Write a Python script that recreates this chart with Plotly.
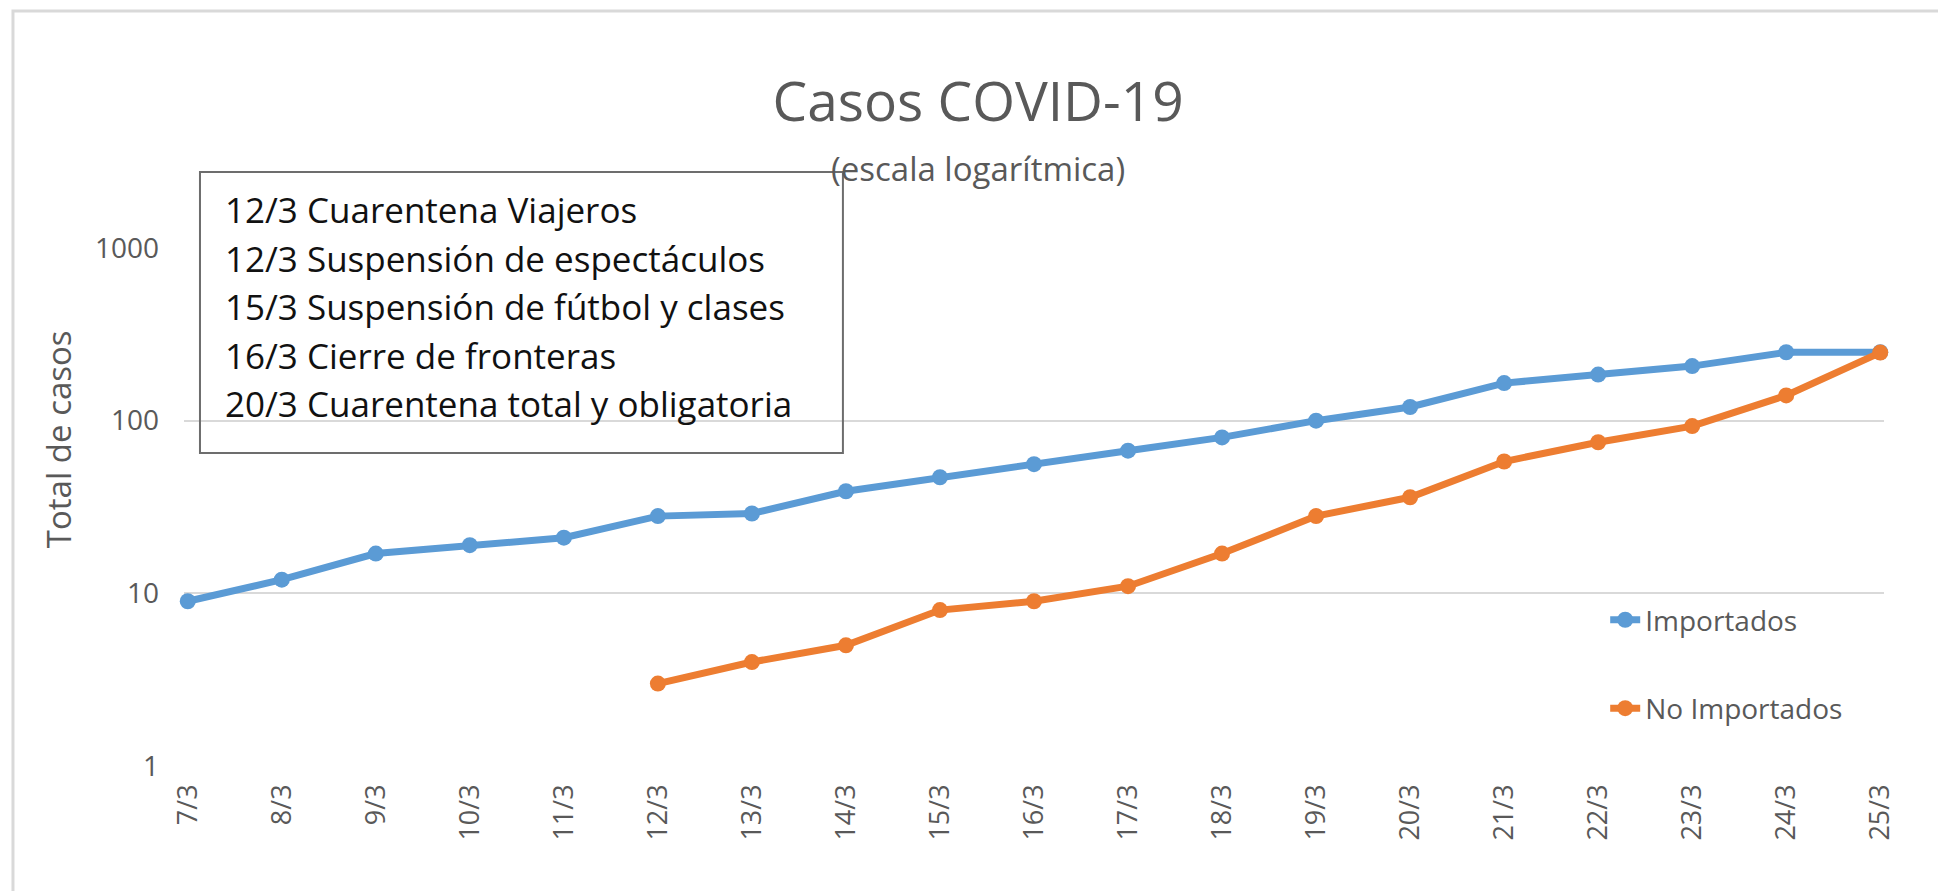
import plotly.graph_objects as go

dias = ["7/3", "8/3", "9/3", "10/3", "11/3", "12/3", "13/3", "14/3", "15/3", "16/3",
        "17/3", "18/3", "19/3", "20/3", "21/3", "22/3", "23/3", "24/3", "25/3"]
importados = [9, 12, 17, 19, 21, 28, 29, 39, 47, 56, 67, 80, 100, 120, 165, 185, 207, 249, 249]
no_importados = [None, None, None, None, None, 3, 4, 5, 8, 9, 11, 17, 28, 36, 58, 75, 93, 140, 248]
medidas = [
    "12/3 Cuarentena Viajeros",
    "12/3 Suspensión de espectáculos",
    "15/3 Suspensión de fútbol y clases",
    "16/3 Cierre de fronteras",
    "20/3 Cuarentena total y obligatoria",
]
y_ticks = [1, 10, 100, 1000]

FONT = "Open Sans"
GRIS = "#595959"

fig = go.Figure()
fig.add_trace(go.Scatter(x=dias, y=importados, name="Importados", legendgroup="a",
                         mode="lines+markers", cliponaxis=False,
                         line=dict(color="#5B9BD5", width=7),
                         marker=dict(color="#5B9BD5", size=16)))
fig.add_trace(go.Scatter(x=dias, y=no_importados, name="No Importados", legendgroup="b",
                         mode="lines+markers", cliponaxis=False,
                         line=dict(color="#ED7D31", width=7),
                         marker=dict(color="#ED7D31", size=16)))

# la pagina tiene 8px de margen en el body: se compensa en los margenes
fig.update_layout(
    width=1946, height=891, autosize=False,
    margin=dict(l=176, r=70, t=240, b=133),
    paper_bgcolor="white", plot_bgcolor="white",
    font=dict(family=FONT, color=GRIS),
    title=dict(text="Casos COVID-19", x=0.4985, xanchor="center", y=0.895, yanchor="middle",
               font=dict(family=FONT, size=55, color=GRIS)),
    legend=dict(x=0.836, y=0.33, xanchor="left", yanchor="top", tracegroupgap=49,
                font=dict(family=FONT, size=28, color=GRIS), bgcolor="rgba(0,0,0,0)"),
    showlegend=True,
)

fig.update_xaxes(type="category", range=[-0.04, 18.04], tickangle=-90, showgrid=False,
                 showline=False, zeroline=False, ticklabelstandoff=12,
                 tickfont=dict(family=FONT, size=27, color=GRIS))
fig.update_yaxes(type="log", range=[0, 3], tickvals=y_ticks, ticktext=[str(v) for v in y_ticks],
                 showgrid=True, gridcolor="#d9d9d9", gridwidth=2, showline=False, zeroline=False,
                 ticklabelstandoff=24, tickfont=dict(family=FONT, size=28, color=GRIS))

# subtitulo
fig.add_annotation(text="(escala logarítmica)", xref="paper", yref="paper", x=0.4671, y=1.1544,
                   xanchor="center", yanchor="middle", showarrow=False,
                   font=dict(family=FONT, size=33, color=GRIS))

# eje y: titulo desplazado hacia arriba como en el original
fig.add_annotation(text="Total de casos", xref="paper", yref="paper", x=-0.0741, y=0.631,
                   textangle=-90, showarrow=False, xanchor="center", yanchor="middle",
                   font=dict(family=FONT, size=33, color=GRIS))

# cuadro de medidas
fig.add_shape(type="rect", xref="paper", yref="paper", x0=0.0094, x1=0.3876, y0=0.6042, y1=1.1467,
              line=dict(color="#6d6d6d", width=2), fillcolor="rgba(0,0,0,0)", layer="above")
for i, txt in enumerate(medidas):
    fig.add_annotation(text=txt, xref="paper", yref="paper", x=0.0229, y=1.0734 - i * 0.0935,
                       xanchor="left", yanchor="middle", showarrow=False,
                       font=dict(family=FONT, size=35, color="#111111"))

# marco exterior (solo se ven los bordes superior e izquierdo)
fig.add_shape(type="rect", xref="paper", yref="paper", x0=-0.1006, x1=1.2, y0=-0.6, y1=1.4575,
              line=dict(color="#d9d9d9", width=3), fillcolor="rgba(0,0,0,0)", layer="below")

fig.write_html("out.html")
